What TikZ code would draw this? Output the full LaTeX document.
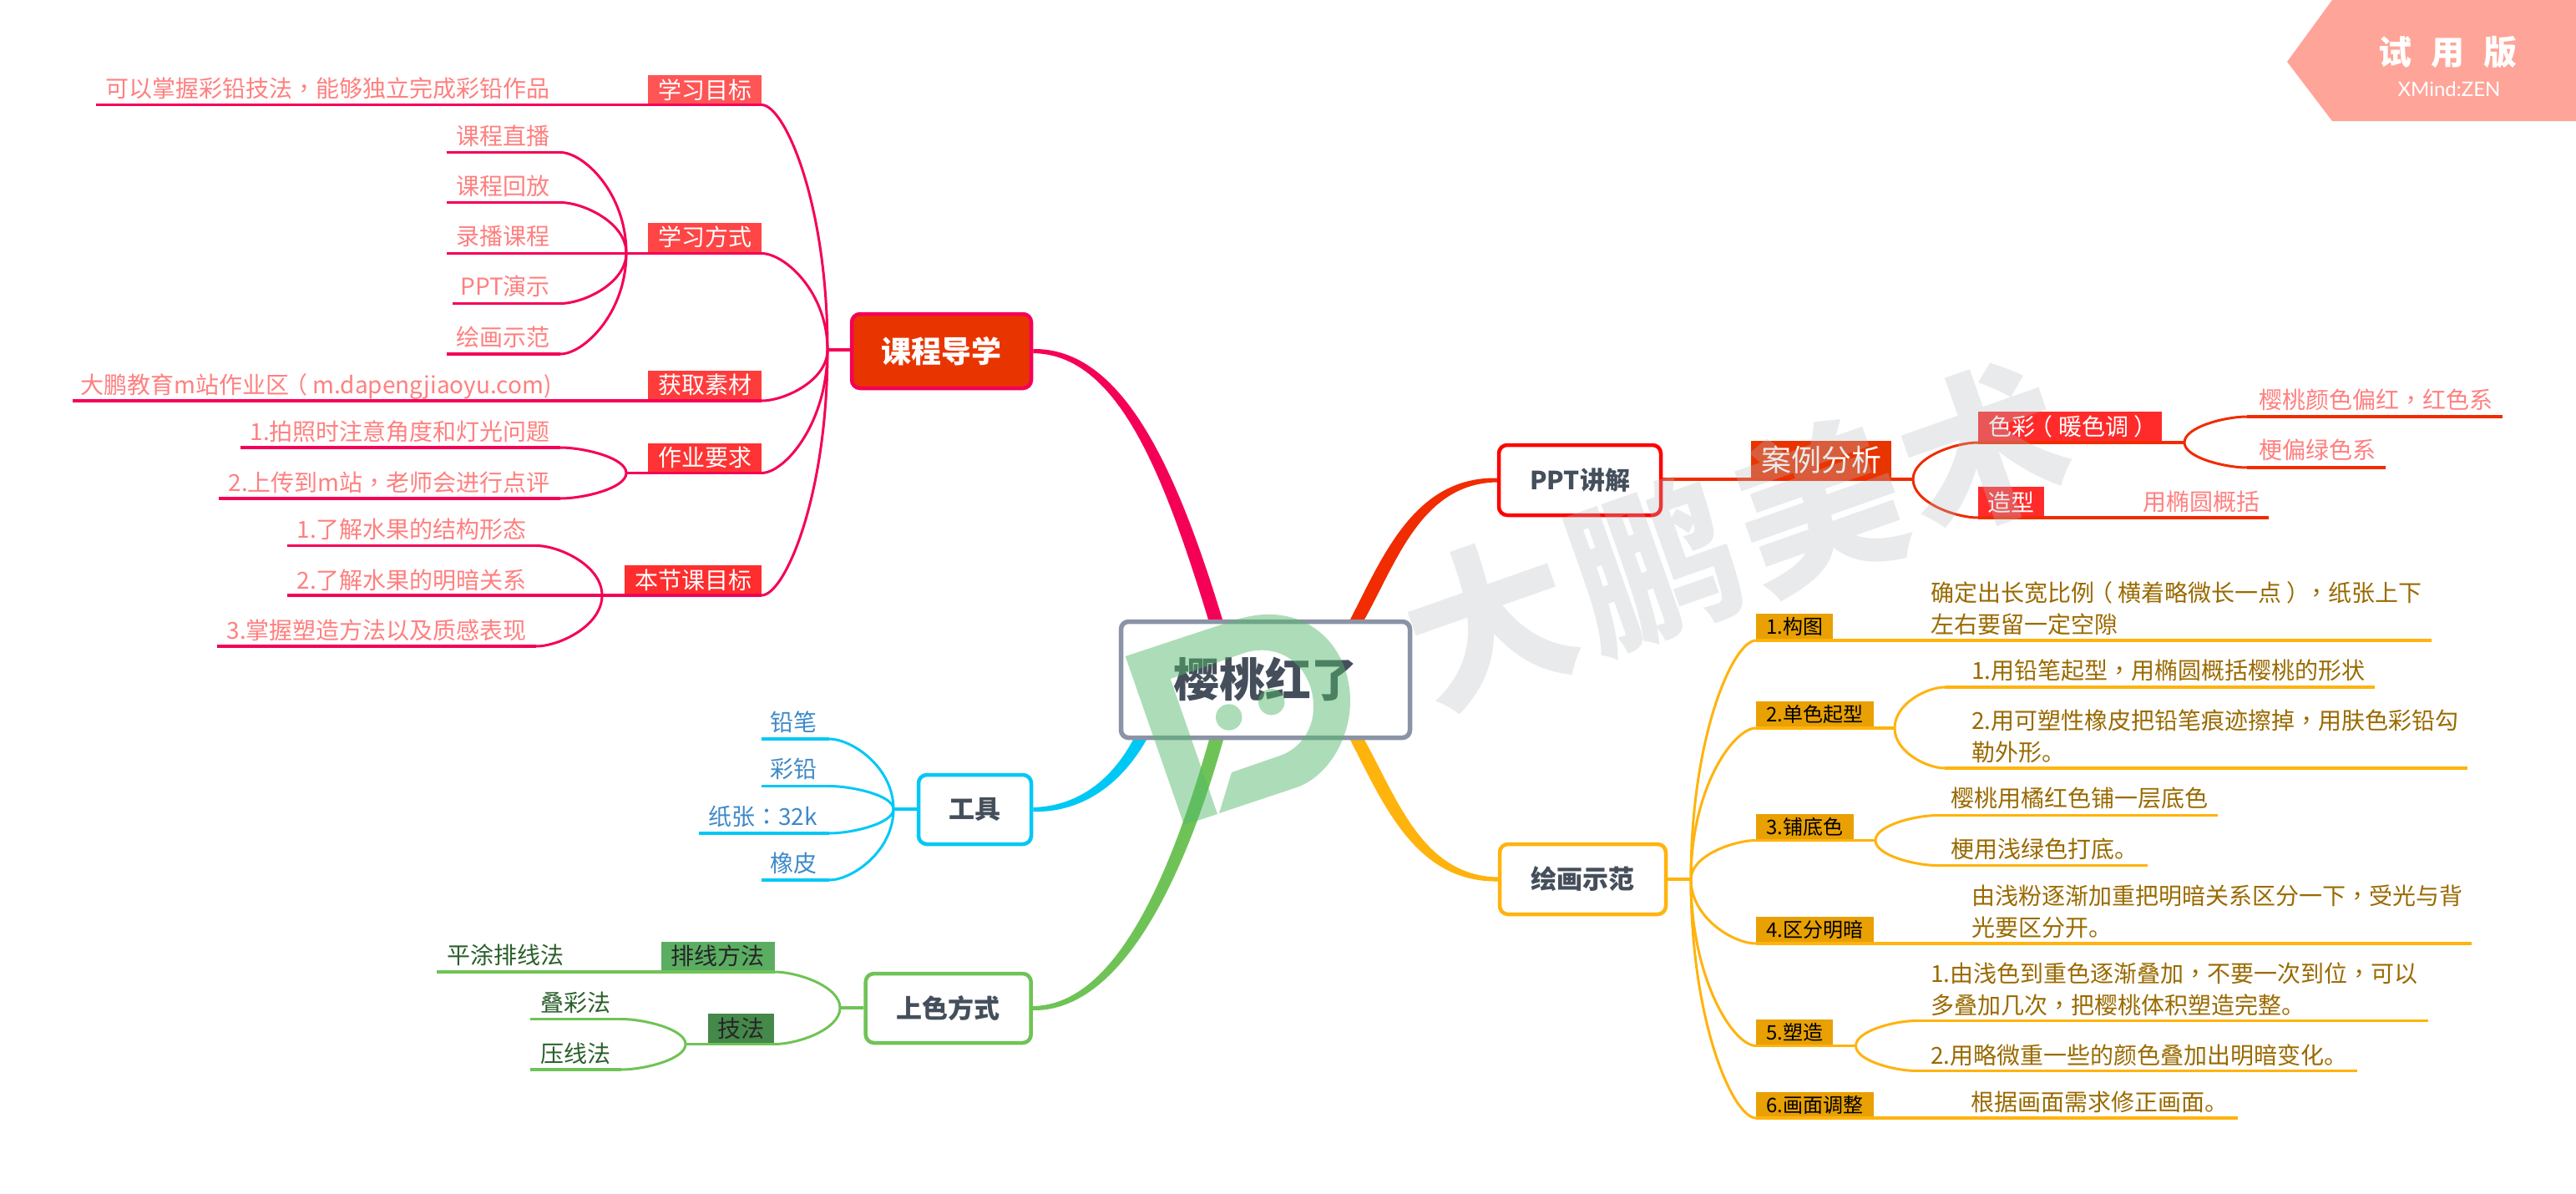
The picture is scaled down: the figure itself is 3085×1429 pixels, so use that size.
\documentclass[tikz,border=0pt]{standalone}
\usepackage{fontspec}
\setmainfont{Noto Sans CJK SC}
\newfontfamily\latinthin{Lato}
\newfontfamily\punctfont{Noto Sans CJK TC}
\newcommand{\pn}[1]{{\punctfont #1}}
\newcommand{\lp}{\kern-.22em（\kern.22em}
\newcommand{\rp}{\kern.22em）\kern-.22em}
\usetikzlibrary{calc}
\definecolor{cpink}{HTML}{F50057}
\definecolor{cred}{HTML}{F02C00}
\definecolor{cblue}{HTML}{00C8F5}
\definecolor{cgreen}{HTML}{6FC356}
\definecolor{corange}{HTML}{FFB30D}
\definecolor{ccenter}{HTML}{8A94A6}
\definecolor{cdark}{HTML}{454F5B}
\definecolor{tpink}{HTML}{FF8080}
\definecolor{tblue}{HTML}{3F8AC9}
\definecolor{tgreen}{HTML}{2B5F2B}
\definecolor{torange}{HTML}{9A6A00}
\definecolor{boxorange}{HTML}{E8A003}
\definecolor{banner}{HTML}{FFA498}
\definecolor{wmgray}{HTML}{B8BCC2}
\definecolor{wmgreen}{HTML}{53B96B}
\definecolor{lab1}{HTML}{FF5555}
\definecolor{lab2}{HTML}{FF4545}
\definecolor{lab3}{HTML}{FF3C3C}
\definecolor{lab4}{HTML}{FF3333}
\definecolor{lab5}{HTML}{FF2D2D}
\definecolor{labred}{HTML}{FF2B2B}
\definecolor{labcase}{HTML}{E83500}
\definecolor{labgreen}{HTML}{5BAD62}
\definecolor{labgreenb}{HTML}{44884A}
\tikzset{
  leaftext/.style={inner sep=0pt,font=\fontsize{28}{38}\selectfont,text height=24.6pt,text depth=3.4pt},
  leafmulti/.style={inner sep=0pt,font=\fontsize{28}{38}\selectfont,align=left,anchor=west},
  topicbox/.style={draw,line width=4.5pt,rounded corners=10pt,fill=white,text=cdark,font=\fontsize{31}{38}\selectfont\bfseries,inner sep=0pt},
}
% leaf underline: colour, name, x-left, x-right, y
\newcommand{\leafline}[5]{%
  \coordinate (#2-a) at (#3,#5);
  \coordinate (#2-b) at (#4,#5);
  \draw[#1,line width=3.6pt] (#2-a) -- (#2-b);}
% curve leaving a line end horizontally and reaching a junction steeply
\newcommand{\branch}[3]{%
  \draw[#1,line width=3pt] let \p1=(#2),\p2=(#3),\n1={0.35*(\x2-\x1)},\n2={0.6*(\y2-\y1)} in
    (#2) .. controls +(\n1,0) and +(0,-\n2) .. (#3);}
% label box: name, cx, cy, w, h, fill, text colour, size, text
\newcommand{\tagbox}[9]{%
  \node[inner sep=0pt,fill=#6,text=#7,minimum width=#4pt,minimum height=#5pt,font=\fontsize{#8}{#8}\selectfont] (#1) at (#2,#3) {#9};}
% leaf text: name, anchor, x, y, colour, text
\newcommand{\leaftxt}[6]{%
  \node[leaftext,anchor=#2,text=#5] (#1) at (#3,#4) {#6};}
\begin{document}
\begin{tikzpicture}[x=1pt,y=-1pt]
\useasboundingbox (0,0) rectangle (3085,1429);
\fill[white] (0,0) rectangle (3085,1429);

% ---------- centre and main topics
\coordinate (cn1) at (1447,742); \coordinate (cn2) at (1464,742);
\coordinate (cn3) at (1617,742); \coordinate (cn4) at (1634,742);
\coordinate (cs1) at (1617,886); \coordinate (cs2) at (1634,886);
\coordinate (cs3) at (1357,886); \coordinate (cs4) at (1373,886);
\coordinate (cs5) at (1448,886); \coordinate (cs6) at (1465,886);
\node[topicbox,draw=cpink,fill=labcase,text=white,minimum width=215pt,minimum height=89pt,font=\fontsize{36}{40}\selectfont\bfseries] (t1) at (1127.5,420.5) {课程导学};
\node[topicbox,draw=red,minimum width=194pt,minimum height=84pt,font=\fontsize{30}{36}\selectfont\bfseries] (t2) at (1892,575) {PPT讲解};
\node[topicbox,draw=corange,minimum width=199pt,minimum height=84pt] (t3) at (1895.5,1053) {绘画示范};
\node[topicbox,draw=cblue,minimum width=135pt,minimum height=83pt] (t4) at (1167.5,969.5) {工具};
\node[topicbox,draw=cgreen,minimum width=198pt,minimum height=83pt] (t5) at (1135.7,1207.5) {上色方式};

% ---------- tapered main connectors
\fill[cpink] ([yshift=2.5pt]t1.east) .. controls +(106,-1.5) and +(-56,-184) .. (cn2)
  -- (cn1) .. controls +(-55,-180) and +(100,1.5) .. ([yshift=-2.5pt]t1.east) -- cycle;
\fill[cred] ([yshift=2.5pt]t2.west) .. controls +(-98,-1.5) and +(40,-78) .. (cn3)
  -- (cn4) .. controls +(39,-70) and +(-90,1.5) .. ([yshift=-2.5pt]t2.west) -- cycle;
\fill[corange] ([yshift=-2.5pt]t3.west) .. controls +(-98,1.5) and +(40,78) .. (cs1)
  -- (cs2) .. controls +(39,70) and +(-90,-1.5) .. ([yshift=2.5pt]t3.west) -- cycle;
\fill[cblue] ([yshift=-2.5pt]t4.east) .. controls +(54,1.5) and +(-33,58) .. (cs4)
  -- (cs3) .. controls +(-27,50) and +(52,-1.5) .. ([yshift=2.5pt]t4.east) -- cycle;
\fill[cgreen] ([yshift=-2.5pt]t5.east) .. controls +(106,1.5) and +(-47,167) .. (cs6)
  -- (cs5) .. controls +(-46,161) and +(100,-1.5) .. ([yshift=2.5pt]t5.east) -- cycle;
\node[draw=ccenter,line width=5.5pt,rounded corners=9pt,fill=white,minimum width=346pt,minimum height=139pt,inner sep=0pt,text=cdark,font=\fontsize{55}{60}\selectfont\bfseries] (center) at (1515.5,814) {樱桃红了};

% ---------- 课程导学
\coordinate (j1) at (991,419);
\draw[cpink,line width=4pt] (j1) -- (t1.west |- j1);
\coordinate (j1b) at (750,303);
\coordinate (j1d) at (750,566.5);
\coordinate (j1e) at (721,713);

\tagbox{a1}{844}{107.5}{136}{35}{lab1}{white}{28}{学习目标}
\tagbox{a2}{844}{284}{136}{35}{lab2}{white}{28}{学习方式}
\tagbox{a3}{844}{461}{136}{35}{lab3}{white}{28}{获取素材}
\tagbox{a4}{844}{548}{136}{35}{lab4}{white}{28}{作业要求}
\tagbox{a5}{830}{694.5}{164}{35}{lab5}{white}{28}{本节课目标}

\leafline{cpink}{a1}{115}{912}{125.5}\branch{cpink}{a1-b}{j1}
\leafline{cpink}{a2}{750}{912}{303.5}\branch{cpink}{a2-b}{j1}
\leafline{cpink}{a3}{87}{912}{480}\branch{cpink}{a3-b}{j1}
\leafline{cpink}{a4}{750}{912}{566.5}\branch{cpink}{a4-b}{j1}
\leafline{cpink}{a5}{721}{912}{713}\branch{cpink}{a5-b}{j1}

\leaftxt{a1t}{east}{659}{106}{tpink}{可以掌握彩铅技法\pn{，}能够独立完成彩铅作品}
\leaftxt{a2t1}{east}{659}{163}{tpink}{课程直播}
\leaftxt{a2t2}{east}{659}{222.5}{tpink}{课程回放}
\leaftxt{a2t3}{east}{659}{283}{tpink}{录播课程}
\leaftxt{a2t4}{east}{659}{343}{tpink}{PPT演示}
\leaftxt{a2t5}{east}{659}{404}{tpink}{绘画示范}
\leaftxt{a3t}{east}{661}{461}{tpink}{大鹏教育m站作业区\lp m.dapengjiaoyu.com)}
\leaftxt{a4t1}{east}{659}{517}{tpink}{1.拍照时注意角度和灯光问题}
\leaftxt{a4t2}{east}{659}{578}{tpink}{2.上传到m站\pn{，}老师会进行点评}
\leaftxt{a5t1}{east}{631}{634}{tpink}{1.了解水果的结构形态}
\leaftxt{a5t2}{east}{631}{694.5}{tpink}{2.了解水果的明暗关系}
\leaftxt{a5t3}{east}{631}{754.5}{tpink}{3.掌握塑造方法以及质感表现}

\leafline{cpink}{b1}{535}{671}{182.5}\branch{cpink}{b1-b}{j1b}
\leafline{cpink}{b2}{535}{671}{242.5}\branch{cpink}{b2-b}{j1b}
\leafline{cpink}{b3}{535}{750}{303.5}
\leafline{cpink}{b4}{542}{671}{363.5}\branch{cpink}{b4-b}{j1b}
\leafline{cpink}{b5}{535}{671}{424}\branch{cpink}{b5-b}{j1b}
\leafline{cpink}{c1}{288}{671}{536}\branch{cpink}{c1-b}{j1d}
\leafline{cpink}{c2}{262}{671}{597}\branch{cpink}{c2-b}{j1d}
\leafline{cpink}{d1}{344}{642}{653.5}\branch{cpink}{d1-b}{j1e}
\leafline{cpink}{d2}{344}{721}{713}
\leafline{cpink}{d3}{259.5}{642}{774}\branch{cpink}{d3-b}{j1e}

% ---------- PPT讲解
\tagbox{e0}{2181}{551}{168}{46}{labcase}{white}{36}{案例分析}
\coordinate (j2) at (2291,574);
\draw[cred,line width=4pt] (t2.east |- j2) -- (j2);
\tagbox{e1}{2479}{511}{220}{36}{labred}{white}{28}{色彩\lp 暖色调\rp}
\tagbox{e2}{2408.5}{601.5}{79}{37}{labred}{white}{28}{造型}
\leafline{cred}{e1}{2369}{2616}{530}\branch{cred}{e1-a}{j2}
\leafline{cred}{e2}{2369}{2717}{620}\branch{cred}{e2-a}{j2}
\coordinate (j2a) at (2616,530);
\leafline{cred}{e3}{2691}{2997}{499}\branch{cred}{e3-a}{j2a}
\leafline{cred}{e4}{2691}{2857}{560}\branch{cred}{e4-a}{j2a}
\leaftxt{e3t}{west}{2705}{479}{tpink}{樱桃颜色偏红\pn{，}红色系}
\leaftxt{e4t}{west}{2705}{539}{tpink}{梗偏绿色系}
\leaftxt{e2t}{west}{2566}{601}{tpink}{用椭圆概括}

% ---------- 绘画示范
\coordinate (j3) at (2025,1053);
\draw[corange,line width=4pt] (t3.east |- j3) -- (j3);
\tagbox{f1}{2149}{750}{92}{30}{boxorange}{black}{24}{1.构图}
\tagbox{f2}{2173.5}{855}{141}{30}{boxorange}{black}{24}{2.单色起型}
\tagbox{f3}{2161.5}{990}{117}{30}{boxorange}{black}{24}{3.铺底色}
\tagbox{f4}{2173.5}{1113}{141}{30}{boxorange}{black}{24}{4.区分明暗}
\tagbox{f5}{2149}{1236}{92}{30}{boxorange}{black}{24}{5.塑造}
\tagbox{f6}{2173.5}{1323}{141}{30}{boxorange}{black}{24}{6.画面调整}
\leafline{corange}{f1}{2103}{2912}{767}\branch{corange}{f1-a}{j3}
\leafline{corange}{f2}{2103}{2269}{872}\branch{corange}{f2-a}{j3}
\leafline{corange}{f3}{2103}{2246}{1006.5}\branch{corange}{f3-a}{j3}
\leafline{corange}{f4}{2103}{2960}{1130}\branch{corange}{f4-a}{j3}
\leafline{corange}{f5}{2103}{2222.5}{1252.5}\branch{corange}{f5-a}{j3}
\leafline{corange}{f6}{2103}{2680}{1339}\branch{corange}{f6-a}{j3}
\coordinate (j3b) at (2269,872);
\coordinate (j3c) at (2246,1006.5);
\coordinate (j3e) at (2222.5,1252.5);
\leafline{corange}{g1}{2329}{2844}{823}\branch{corange}{g1-a}{j3b}
\leafline{corange}{g2}{2329}{2955}{920}\branch{corange}{g2-a}{j3b}
\leafline{corange}{g3}{2320}{2656}{976.5}\branch{corange}{g3-a}{j3c}
\leafline{corange}{g4}{2320}{2572}{1036.5}\branch{corange}{g4-a}{j3c}
\leafline{corange}{g5}{2295}{2908}{1222.5}\branch{corange}{g5-a}{j3e}
\leafline{corange}{g6}{2295}{2823}{1282.5}\branch{corange}{g6-a}{j3e}
\node[leafmulti,text=torange] (f1t) at (2312,729) {确定出长宽比例\lp 横着略微长一点\rp\pn{，}纸张上下\\左右要留一定空隙};
\leaftxt{g1t}{west}{2361}{803}{torange}{1.用铅笔起型\pn{，}用椭圆概括樱桃的形状}
\node[leafmulti,text=torange] (g2t) at (2361,882) {2.用可塑性橡皮把铅笔痕迹擦掉\pn{，}用肤色彩铅勾\\勒外形。};
\leaftxt{g3t}{west}{2336}{956}{torange}{樱桃用橘红色铺一层底色}
\leaftxt{g4t}{west}{2336}{1017}{torange}{梗用浅绿色打底。}
\node[leafmulti,text=torange] (f4t) at (2361,1092) {由浅粉逐渐加重把明暗关系区分一下\pn{，}受光与背\\光要区分开。};
\node[leafmulti,text=torange] (g5t) at (2312,1184.5) {1.由浅色到重色逐渐叠加\pn{，}不要一次到位\pn{，}可以\\多叠加几次\pn{，}把樱桃体积塑造完整。};
\leaftxt{g6t}{west}{2312}{1263.5}{torange}{2.用略微重一些的颜色叠加出明暗变化。}
\leaftxt{f6t}{west}{2360}{1320}{torange}{根据画面需求修正画面。}

% ---------- 工具
\coordinate (j4) at (1070,969);
\draw[cblue,line width=4pt] (j4) -- (t4.west |- j4);
\leafline{cblue}{h1}{911.5}{993}{885}\branch{cblue}{h1-b}{j4}
\leafline{cblue}{h2}{911.5}{993}{941.5}\branch{cblue}{h2-b}{j4}
\leafline{cblue}{h3}{837}{993}{998}\branch{cblue}{h3-b}{j4}
\leafline{cblue}{h4}{911.5}{993}{1054}\branch{cblue}{h4-b}{j4}
\leaftxt{h1t}{east}{979}{865}{tblue}{铅笔}
\leaftxt{h2t}{east}{979}{921}{tblue}{彩铅}
\leaftxt{h3t}{east}{979}{978}{tblue}{纸张\pn{：}32k}
\leaftxt{h4t}{east}{979}{1034}{tblue}{橡皮}

% ---------- 上色方式
\coordinate (j5) at (1006,1207);
\coordinate (j5b) at (821,1250.5);
\draw[cgreen,line width=4pt] (j5) -- (t5.west |- j5);
\tagbox{k1}{859.5}{1145}{136}{34}{labgreen}{black!85}{28}{排线方法}
\tagbox{k2}{887.7}{1231.5}{79.5}{35}{labgreenb}{black!85}{28}{技法}
\leafline{cgreen}{k1}{523}{927.5}{1164}\branch{cgreen}{k1-b}{j5}
\leafline{cgreen}{k2}{821}{927.5}{1250.5}\branch{cgreen}{k2-b}{j5}
\leafline{cgreen}{m1}{634.7}{744}{1220.5}\branch{cgreen}{m1-b}{j5b}
\leafline{cgreen}{m2}{634.7}{744}{1281}\branch{cgreen}{m2-b}{j5b}
\leaftxt{k1t}{east}{675.5}{1144}{tgreen}{平涂排线法}
\leaftxt{m1t}{east}{731.6}{1201}{tgreen}{叠彩法}
\leaftxt{m2t}{east}{731.6}{1261.5}{tgreen}{压线法}

% ---------- watermark
\node[inner sep=0pt,rotate=19.4,text=wmgray,opacity=.3,font=\fontsize{198}{198}\selectfont\bfseries] (wmtext) at (2079,640) {大\hspace{11pt}鹏\hspace{11pt}美\hspace{11pt}术};
\begin{scope}[fill=wmgreen,fill opacity=.48]
\fill (1347.7,786) -- (1478,743) .. controls (1560,716) and (1617,770) .. (1617,840)
  .. controls (1617,885) and (1590,930) .. (1553,943) -- (1460,974) -- (1475,925) -- (1533,905)
  .. controls (1556,897) and (1573,875) .. (1573,847) .. controls (1573,800) and (1535,768) .. (1490,782)
  -- (1401.7,813) -- (1458,975) -- (1418,988) -- cycle;
\fill (1471.7,859) circle[radius=15.7];
\fill (1522.7,840.7) circle[radius=15.7];
\end{scope}

% ---------- trial banner
\fill[banner] (2793,0) -- (3085,0) -- (3085,145) -- (2793,145) -- (2739,74) -- cycle;
\node[inner sep=0pt,text=white,font=\fontsize{40}{40}\selectfont\bfseries] (trial) at (2931,63) {试\hspace{23pt}用\hspace{23pt}版};
\node[inner sep=0pt,text=white,font=\latinthin\fontsize{24}{24}\selectfont] (xmind) at (2933,107) {XMind:ZEN};
\end{tikzpicture}
\end{document}
